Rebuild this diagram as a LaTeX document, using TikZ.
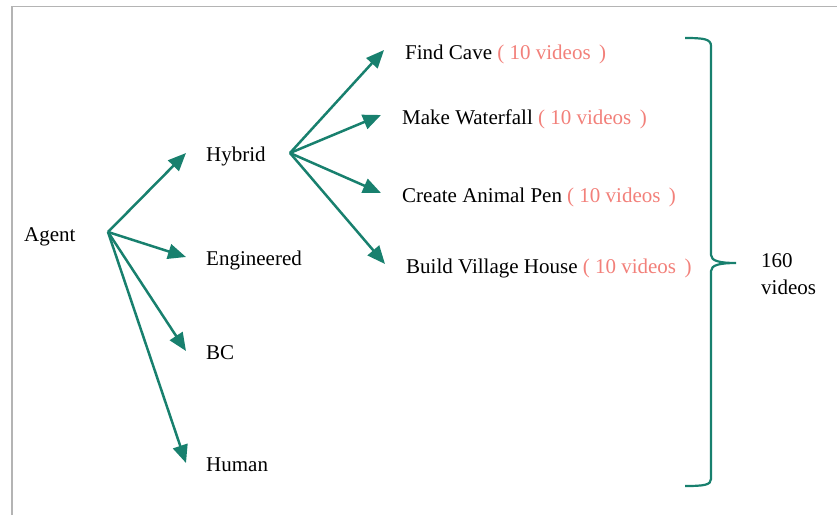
\documentclass[tikz,border=0pt]{standalone}
\usepackage{fontspec}
\setmainfont{Liberation Serif}
\usetikzlibrary{arrows.meta}
\definecolor{teal}{RGB}{24,128,110}
\definecolor{countred}{RGB}{242,128,122}
\definecolor{framegray}{RGB}{180,180,180}
\tikzset{
  lbl/.style={anchor=west, inner sep=0pt, text height=14.5pt, text depth=4.5pt, font=\fontsize{21}{27}\selectfont},
  arr/.style={draw=teal, line width=2.5pt, -{Triangle[length=18pt,width=15pt]}},
  brace/.style={draw=teal, line width=2.2pt},
  frame/.style={draw=framegray, line width=1.5pt}
}
\newcommand{\cnt}{\textcolor{countred}{( 10 videos\hspace{0.4em})}}
\begin{document}
\begin{tikzpicture}[x=1pt,y=-1pt]
\useasboundingbox (0,0) rectangle (837,515);
% thin frame along the top and left edge
\draw[frame] (12,515) -- (12,6.5) -- (837,6.5);

% first level
\node[lbl] (agent) at (24,236) {Agent};
\coordinate (agenthub) at (108,232);
\node[lbl] (hybrid) at (206,156) {Hybrid};
\node[lbl] (eng) at (206,260) {Engineered};
\node[lbl] (bc) at (206,354) {BC};
\node[lbl] (human) at (206,466) {Human};

\foreach \n in {hybrid,eng,bc,human}
  \draw[arr] (agenthub) -- ([xshift=-20pt,yshift=3pt]\n.west);

% second level: tasks of the hybrid agent
\coordinate (hybridhub) at (290,153);
\node[lbl] (cave) at (405,54) {Find Cave \cnt};
\node[lbl] (fall) at (402,119) {Make Waterfall \cnt};
\node[lbl] (pen) at (402,197) {Create Animal Pen \cnt};
\node[lbl] (house) at (406,268) {Build Village House \cnt};

\foreach \n in {cave,fall,pen,house}
  \draw[arr] (hybridhub) -- ([xshift=-21pt,yshift=4pt]\n.west);

% brace gathering all videos
\coordinate (tip) at (736,263);
\draw[brace] (685,38) .. controls (704,38) and (711,39) .. (711,46)
  -- (711,255) .. controls (711,261) and (720,263) .. (tip)
  .. controls (720,263) and (711,265) .. (711,271)
  -- (711,479) .. controls (711,485) and (704,486) .. (685,486);

\node[lbl, align=left, text height=, text depth=] (total) at (761,274) {160\\videos};
\end{tikzpicture}
\end{document}
